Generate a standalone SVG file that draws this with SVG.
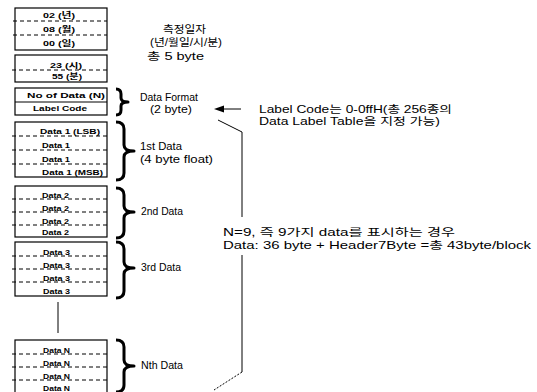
<svg xmlns="http://www.w3.org/2000/svg" width="537" height="392" viewBox="0 0 537 392">
<style>
.box{fill:#fff;stroke:#000;stroke-width:1.2}
.dash{stroke:#000;stroke-width:1;stroke-dasharray:4 3;fill:none}
.cell{font-family:"Liberation Sans","Noto Sans CJK KR",sans-serif;font-size:7.5px;font-weight:bold;fill:#000}
.lbl{font-family:"Liberation Sans","Noto Sans CJK KR",sans-serif;font-size:10.5px;fill:#000}
.brace{fill:none;stroke:#000;stroke-width:3;stroke-linejoin:round}
.ln{stroke:#000;stroke-width:1;fill:none}
</style>
<rect width="537" height="392" fill="#fff"/>
<g id="n-date">
<rect class="box" x="15" y="8" width="92" height="42"/>
<line class="dash" x1="13" y1="21" x2="107" y2="21"/>
<line class="dash" x1="13" y1="35" x2="107" y2="35"/>
<text class="cell" x="43" y="18" textLength="32" lengthAdjust="spacingAndGlyphs">02 (년)</text>
<text class="cell" x="43" y="32" textLength="32" lengthAdjust="spacingAndGlyphs">08 (월)</text>
<text class="cell" x="43" y="46" textLength="32" lengthAdjust="spacingAndGlyphs">00 (일)</text>
</g>
<g id="n-time">
<rect class="box" x="15" y="55" width="92" height="27"/>
<line class="dash" x1="12" y1="70" x2="107" y2="70"/>
<text class="cell" x="50" y="68" textLength="32" lengthAdjust="spacingAndGlyphs">23 (시)</text>
<text class="cell" x="52" y="79" textLength="30" lengthAdjust="spacingAndGlyphs">55 (분)</text>
</g>
<g id="n-format">
<rect class="box" x="15" y="88" width="92" height="27"/>
<line class="ln" x1="15" y1="102" x2="107" y2="102" stroke-width="0.6"/>
<text class="cell" x="27" y="98" textLength="78" lengthAdjust="spacingAndGlyphs">No   of Data (N)</text>
<text class="cell" x="33" y="111" textLength="54" lengthAdjust="spacingAndGlyphs">Label Code</text>
</g>
<g id="n-data1">
<rect class="box" x="15" y="122" width="92" height="55"/>
<line class="dash" x1="12" y1="136" x2="107" y2="136"/>
<line class="dash" x1="12" y1="150" x2="107" y2="150"/>
<line class="dash" x1="12" y1="164" x2="107" y2="164"/>
<text class="cell" x="40" y="134" textLength="60" lengthAdjust="spacingAndGlyphs">Data 1 (LSB)</text>
<text class="cell" x="42" y="148" textLength="28" lengthAdjust="spacingAndGlyphs">Data 1</text>
<text class="cell" x="42" y="162" textLength="28" lengthAdjust="spacingAndGlyphs">Data 1</text>
<text class="cell" x="42" y="175" textLength="61" lengthAdjust="spacingAndGlyphs">Data 1 (MSB)</text>
</g>
<g id="n-data2">
<rect class="box" x="15" y="186" width="92" height="51"/>
<line class="dash" x1="12" y1="199" x2="107" y2="199"/>
<line class="dash" x1="12" y1="212" x2="107" y2="212"/>
<line class="dash" x1="12" y1="225" x2="107" y2="225"/>
<text class="cell" x="42" y="198" textLength="27" lengthAdjust="spacingAndGlyphs">Data 2</text>
<text class="cell" x="42" y="211" textLength="27" lengthAdjust="spacingAndGlyphs">Data 2</text>
<text class="cell" x="42" y="224" textLength="27" lengthAdjust="spacingAndGlyphs">Data 2</text>
<text class="cell" x="42" y="235" textLength="27" lengthAdjust="spacingAndGlyphs">Data 2</text>
</g>
<g id="n-data3">
<rect class="box" x="15" y="242" width="92" height="54"/>
<line class="dash" x1="12" y1="256" x2="107" y2="256"/>
<line class="dash" x1="12" y1="269" x2="107" y2="269"/>
<line class="dash" x1="12" y1="282" x2="107" y2="282"/>
<text class="cell" x="43" y="255" textLength="27" lengthAdjust="spacingAndGlyphs">Data 3</text>
<text class="cell" x="43" y="268" textLength="27" lengthAdjust="spacingAndGlyphs">Data 3</text>
<text class="cell" x="43" y="281" textLength="27" lengthAdjust="spacingAndGlyphs">Data 3</text>
<text class="cell" x="43" y="294" textLength="27" lengthAdjust="spacingAndGlyphs">Data 3</text>
</g>
<g id="n-dataN">
<rect class="box" x="15" y="340" width="92" height="56"/>
<line class="dash" x1="12" y1="354" x2="107" y2="354"/>
<line class="dash" x1="12" y1="367" x2="107" y2="367"/>
<line class="dash" x1="12" y1="380" x2="107" y2="380"/>
<text class="cell" x="43" y="353" textLength="27" lengthAdjust="spacingAndGlyphs">Data N</text>
<text class="cell" x="43" y="366" textLength="27" lengthAdjust="spacingAndGlyphs">Data N</text>
<text class="cell" x="43" y="379" textLength="27" lengthAdjust="spacingAndGlyphs">Data N</text>
<text class="cell" x="43" y="391" textLength="27" lengthAdjust="spacingAndGlyphs">Data N</text>
</g>
<g id="braces">
<path class="brace" d="M116,89 Q121,89 121,94 L121,98 Q121,102 128,102 Q121,102 121,106 L121,110 Q121,115 116,115"/>
<path class="brace" d="M116,122 Q124,122 124,129 L124,145 Q124,151 134,151 Q124,151 124,157 L124,173 Q124,180 116,180"/>
<path class="brace" d="M116,188 Q124,188 124,195 L124,206 Q124,212 134,212 Q124,212 124,218 L124,231 Q124,238 116,238"/>
<path class="brace" d="M116,242 Q124,242 124,249 L124,262 Q124,268 134,268 Q124,268 124,274 L124,291 Q124,298 116,298"/>
<path class="brace" d="M116,340 Q124,340 124,347 L124,360 Q124,366 134,366 Q124,366 124,372 L124,385 Q124,392 116,392"/>
</g>
<g id="labels">
<text class="lbl" x="163" y="33" textLength="43" lengthAdjust="spacingAndGlyphs">측정일자</text>
<text class="lbl" x="150" y="46" textLength="72" lengthAdjust="spacingAndGlyphs">(년/월일/시/분)</text>
<text class="lbl" x="147" y="60" textLength="57" lengthAdjust="spacingAndGlyphs">총 5 byte</text>
<text class="lbl" x="140" y="101" textLength="58" lengthAdjust="spacingAndGlyphs">Data Format</text>
<text class="lbl" x="150" y="113" textLength="42" lengthAdjust="spacingAndGlyphs">(2 byte)</text>
<text class="lbl" x="140" y="150" textLength="42" lengthAdjust="spacingAndGlyphs">1st Data</text>
<text class="lbl" x="140" y="163" textLength="73" lengthAdjust="spacingAndGlyphs">(4 byte float)</text>
<text class="lbl" x="141" y="215" textLength="42" lengthAdjust="spacingAndGlyphs">2nd Data</text>
<text class="lbl" x="141" y="271" textLength="40" lengthAdjust="spacingAndGlyphs">3rd Data</text>
<text class="lbl" x="141" y="369" textLength="42" lengthAdjust="spacingAndGlyphs">Nth Data</text>
<text class="lbl" x="259" y="113" textLength="193" lengthAdjust="spacingAndGlyphs">Label Code는 0-0ffH(총 256종의</text>
<text class="lbl" x="259" y="125" textLength="181" lengthAdjust="spacingAndGlyphs">Data Label Table을 지정 가능)</text>
<text class="lbl" x="223" y="236" textLength="232" lengthAdjust="spacingAndGlyphs">N=9, 즉 9가지 data를 표시하는 경우</text>
<text class="lbl" x="223" y="249" textLength="308" lengthAdjust="spacingAndGlyphs">Data: 36 byte + Header7Byte =총 43byte/block</text>
</g>
<g id="connectors">
<line class="ln" x1="241" y1="109" x2="222" y2="109" stroke-width="1.3"/>
<polygon points="214,109 224,105.5 224,112.5" fill="#000"/>
<polyline class="ln" points="218,120 242,132 242,217"/>
<polyline class="ln" points="242,255 242,372"/>
<line class="ln" x1="242" y1="372" x2="214" y2="390" stroke-dasharray="2 1.5"/>
<line class="ln" x1="58" y1="302" x2="58" y2="333"/>
</g>
</svg>
